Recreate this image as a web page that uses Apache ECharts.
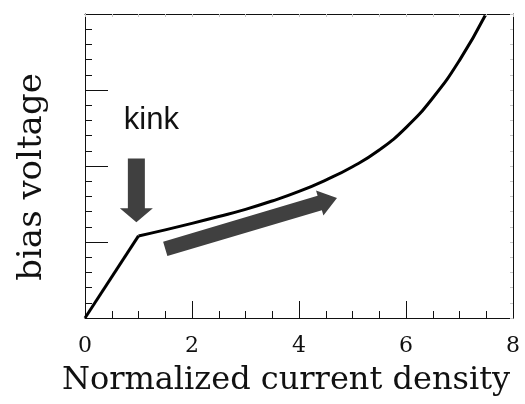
<!DOCTYPE html>
<html>
<head>
<meta charset="utf-8">
<script src="https://cdn.jsdelivr.net/npm/echarts@6/dist/echarts.min.js"></script>
<style>
  html, body { margin: 0; padding: 0; background: #fff; }
  #chart { width: 525px; height: 404px; }
</style>
</head>
<body>
<div id="chart"></div>
<script>
// Linear region up to the kink
const linearDensity = [0, 1.0];
const linearVoltage = [0, 1.08];

// Region above the kink
const currentDensity = [1.0, 1.5, 2.0, 2.5, 3.0, 3.5, 4.0, 4.5, 5.0, 5.5, 6.0, 6.5, 7.0, 7.48];
const biasVoltage    = [1.08, 1.16, 1.245, 1.335, 1.43, 1.54, 1.665, 1.815, 1.99, 2.21, 2.505, 2.895, 3.39, 3.98];

// Axis ticks
const xTickValues = [0, 2, 4, 6, 8];
const xTickLabels = ['0', '2', '4', '6', '8'];

// Annotations, in data units
const kinkLabel = { text: 'kink', at: [1.24, 2.39] };
const kinkArrow = { from: [0.96, 2.1], to: [0.96, 1.26] };
const trendArrow = { from: [1.5, 0.91], to: [4.71, 1.58] };

const pairs = (xs, ys) => xs.map((x, i) => [x, ys[i]]);

const serif = 'DejaVu Serif';
const ink = '#111';

const chart = echarts.init(document.getElementById('chart'), null, { renderer: 'canvas' });

const option = {
  animation: false,
  backgroundColor: '#fff',
  grid: { left: 85, right: 12, top: 14, bottom: 86, containLabel: false },
  xAxis: [
    {
      type: 'value', min: 0, max: 8, interval: 2, position: 'bottom',
      name: 'Normalized current density', nameLocation: 'middle', nameGap: 47,
      nameTextStyle: { fontFamily: serif, fontSize: 32, color: ink, padding: [0, 26, 0, 0] },
      axisLine: { show: true, onZero: false, lineStyle: { color: ink, width: 1 } },
      axisTick: { show: true, inside: true, length: 17, lineStyle: { color: ink, width: 1 } },
      minorTick: { show: true, splitNumber: 4, length: 7, lineStyle: { color: ink, width: 1 } },
      axisLabel: {
        margin: 17, fontFamily: serif, fontSize: 22, color: ink,
        formatter: v => { const i = xTickValues.indexOf(v); return i >= 0 ? xTickLabels[i] : ''; }
      },
      splitLine: { show: false }
    },
    {
      type: 'value', min: 0, max: 8, interval: 2, position: 'top',
      axisLine: { show: true, onZero: false, lineStyle: { color: ink, width: 1 } },
      axisTick: { show: true, inside: true, length: 3, lineStyle: { color: '#c8c8c8' } },
      minorTick: { show: true, splitNumber: 4, length: 3, lineStyle: { color: '#c8c8c8' } },
      axisLabel: { show: false },
      splitLine: { show: false }
    }
  ],
  yAxis: [
    {
      type: 'value', min: 0, max: 4, interval: 1, position: 'left',
      name: 'bias voltage', nameLocation: 'middle', nameGap: 36,
      nameTextStyle: { fontFamily: serif, fontSize: 34, color: ink, padding: [0, 22, 0, 0] },
      axisLine: { show: true, onZero: false, lineStyle: { color: ink, width: 1 } },
      axisTick: { show: true, inside: true, length: 23, lineStyle: { color: ink, width: 1 } },
      minorTick: { show: true, splitNumber: 5, length: 7, lineStyle: { color: ink, width: 1 } },
      axisLabel: { show: false },
      splitLine: { show: false }
    },
    {
      type: 'value', min: 0, max: 4, interval: 1, position: 'right',
      axisLine: { show: true, onZero: false, lineStyle: { color: ink, width: 1 } },
      axisTick: { show: true, inside: true, length: 3, lineStyle: { color: '#c8c8c8' } },
      minorTick: { show: true, splitNumber: 5, length: 3, lineStyle: { color: '#c8c8c8' } },
      axisLabel: { show: false },
      splitLine: { show: false }
    }
  ],
  series: [
    {
      type: 'line', xAxisIndex: 0, yAxisIndex: 0,
      data: pairs(linearDensity, linearVoltage),
      showSymbol: false, smooth: false,
      lineStyle: { color: '#000', width: 3 }
    },
    {
      type: 'line', xAxisIndex: 0, yAxisIndex: 0,
      data: pairs(currentDensity, biasVoltage),
      showSymbol: false, smooth: 0.5,
      lineStyle: { color: '#000', width: 3 }
    }
  ]
};

chart.setOption(option);

// Block arrow outline from tail to tip, in pixels
function arrowShape(a, shaftHalf, headHalf, headLen) {
  const p0 = chart.convertToPixel({ seriesIndex: 0 }, a.from);
  const p1 = chart.convertToPixel({ seriesIndex: 0 }, a.to);
  const dx = p1[0] - p0[0], dy = p1[1] - p0[1];
  const len = Math.hypot(dx, dy);
  const ux = dx / len, uy = dy / len;
  const nx = -uy, ny = ux;
  const bx = p1[0] - ux * headLen, by = p1[1] - uy * headLen;
  return [
    [p0[0] + nx * shaftHalf, p0[1] + ny * shaftHalf],
    [bx + nx * shaftHalf, by + ny * shaftHalf],
    [bx + nx * headHalf, by + ny * headHalf],
    [p1[0], p1[1]],
    [bx - nx * headHalf, by - ny * headHalf],
    [bx - nx * shaftHalf, by - ny * shaftHalf],
    [p0[0] - nx * shaftHalf, p0[1] - ny * shaftHalf]
  ];
}

const labelPos = chart.convertToPixel({ seriesIndex: 0 }, kinkLabel.at);

chart.setOption({
  graphic: [
    {
      type: 'polygon', z: 10,
      shape: { points: arrowShape(kinkArrow, 8.5, 16.5, 14) },
      style: { fill: '#404040' }
    },
    {
      type: 'polygon', z: 10,
      shape: { points: arrowShape(trendArrow, 7.5, 13, 18) },
      style: { fill: '#404040' }
    },
    {
      type: 'text', z: 10,
      x: labelPos[0], y: labelPos[1],
      style: {
        text: kinkLabel.text, fill: '#111',
        font: '31px "Liberation Sans"',
        textAlign: 'center', textVerticalAlign: 'bottom'
      }
    }
  ]
});
</script>
</body>
</html>
